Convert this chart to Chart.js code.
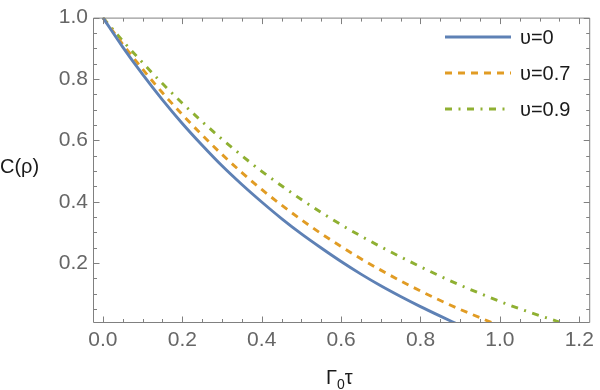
<!DOCTYPE html>
<html>
<head>
<meta charset="utf-8">
<script src="https://cdn.jsdelivr.net/npm/chart.js@4"></script>
<style>
  html, body { margin: 0; padding: 0; background: #fff; }
  #wrap { position: relative; width: 600px; height: 390px; }
  #chart { position: absolute; left: 0; top: 0; }
  .axis-title { position: absolute; font-family: 'Liberation Sans', Arial, sans-serif; font-size: 20px; color: #1a1a1a; white-space: nowrap; line-height: 23px; }
  #yTitle { left: 0px; top: 155px; }
  #xTitle { left: 326px; top: 366px; }
  #xTitle sub { font-size: 14px; vertical-align: -5px; line-height: 0; }
  .leg { position: absolute; left: 445px; height: 24px; display: flex; align-items: center; font-family: 'Liberation Sans', Arial, sans-serif; font-size: 20px; color: #1a1a1a; }
  .leg svg { margin-right: 9px; }
</style>
</head>
<body>
<div id="wrap">
  <canvas id="chart" width="600" height="390"></canvas>
  <div class="axis-title" id="yTitle">C(ρ)</div>
  <div class="axis-title" id="xTitle">Γ<sub>0</sub>τ</div>
  <div id="legend"></div>
</div>
<script>
// 曲线数据
const tauV0 = [0, 0.05, 0.1, 0.15, 0.2, 0.25, 0.3, 0.35, 0.4, 0.45, 0.5, 0.55, 0.6, 0.65, 0.7, 0.75, 0.8, 0.85, 0.895];
const cV0 = [1.000, 0.904, 0.815, 0.732, 0.655, 0.584, 0.517, 0.456, 0.399, 0.345, 0.295, 0.249, 0.205, 0.164, 0.126, 0.091, 0.058, 0.027, 0];

const tauV07 = [0, 0.05, 0.1, 0.15, 0.2, 0.25, 0.3, 0.35, 0.4, 0.45, 0.5, 0.55, 0.6, 0.65, 0.7, 0.75, 0.8, 0.85, 0.9, 0.95, 0.99];
const cV07 = [1.000, 0.913, 0.832, 0.755, 0.684, 0.617, 0.554, 0.495, 0.440, 0.389, 0.341, 0.296, 0.254, 0.214, 0.177, 0.142, 0.109, 0.078, 0.049, 0.022, 0];

const tauV09 = [0, 0.05, 0.1, 0.15, 0.2, 0.25, 0.3, 0.35, 0.4, 0.45, 0.5, 0.55, 0.6, 0.65, 0.7, 0.75, 0.8, 0.85, 0.9, 0.95, 1.0, 1.05, 1.1, 1.15, 1.165];
const cV09 = [1.000, 0.924, 0.853, 0.785, 0.721, 0.661, 0.604, 0.550, 0.499, 0.452, 0.407, 0.365, 0.325, 0.288, 0.253, 0.220, 0.188, 0.157, 0.128, 0.101, 0.075, 0.051, 0.029, 0.008, 0];

const seriesLabels = ['υ=0', 'υ=0.7', 'υ=0.9'];

// 刻度
const xMajor = [0, 0.2, 0.4, 0.6, 0.8, 1.0, 1.2];
const xMinor = [0.05, 0.1, 0.15, 0.25, 0.3, 0.35, 0.45, 0.5, 0.55, 0.65, 0.7, 0.75, 0.85, 0.9, 0.95, 1.05, 1.1, 1.15];
const yMajor = [0.2, 0.4, 0.6, 0.8, 1.0];
const yMinor = [0.05, 0.1, 0.15, 0.25, 0.3, 0.35, 0.45, 0.5, 0.55, 0.65, 0.7, 0.75, 0.85, 0.9, 0.95];

const COLORS = ['#5e81b5', '#e19c24', '#8fb032'];
const DASHES = [[], [7, 6], [7, 6.5, 2, 6.5]];
const FRAME = '#808080';

const toPts = (xs, ys) => xs.map((t, i) => ({ x: t, y: ys[i] }));

// 外框 + 向内刻度 (Mathematica 风格)
const frameTicks = {
  id: 'frameTicks',
  afterDatasetsDraw(chart) {
    const { ctx, chartArea: a, scales: { x, y } } = chart;
    ctx.save();
    ctx.strokeStyle = FRAME;
    ctx.lineWidth = 1;
    ctx.setLineDash([]);
    const L = a.left + 0.5, R = a.right + 0.5, T = a.top + 0.5, B = a.bottom + 0.5;
    ctx.beginPath();
    ctx.rect(L, T, R - L, B - T);
    const xt = (v, len) => {
      const p = Math.round(x.getPixelForValue(v)) + 0.5;
      ctx.moveTo(p, B); ctx.lineTo(p, B - len);
      ctx.moveTo(p, T); ctx.lineTo(p, T + len);
    };
    const yt = (v, len) => {
      const p = Math.round(y.getPixelForValue(v)) + 0.5;
      ctx.moveTo(L, p); ctx.lineTo(L + len, p);
      ctx.moveTo(R, p); ctx.lineTo(R - len, p);
    };
    xMajor.forEach(v => xt(v, 6));
    xMinor.forEach(v => xt(v, 3.5));
    yMajor.forEach(v => yt(v, 6));
    yMinor.forEach(v => yt(v, 3.5));
    ctx.stroke();
    ctx.restore();
  }
};

const tickFont = { family: "'Liberation Sans', Arial, sans-serif", size: 21 };

new Chart(document.getElementById('chart'), {
  type: 'line',
  data: {
    datasets: [
      { label: seriesLabels[0], data: toPts(tauV0, cV0) },
      { label: seriesLabels[1], data: toPts(tauV07, cV07) },
      { label: seriesLabels[2], data: toPts(tauV09, cV09) },
    ].map((d, i) => ({
      ...d,
      borderColor: COLORS[i],
      borderWidth: 2.9,
      borderDash: DASHES[i],
      borderCapStyle: 'butt',
      pointRadius: 0,
      fill: false,
      cubicInterpolationMode: 'monotone',
    }))
  },
  options: {
    responsive: false,
    animation: false,
    devicePixelRatio: 1,
    layout: { padding: { top: 13, right: 6, left: 0, bottom: 0 } },
    plugins: { legend: { display: false }, tooltip: { enabled: false } },
    scales: {
      x: {
        type: 'linear',
        min: -0.025,
        max: 1.225,
        grid: { display: false, drawTicks: false },
        border: { display: false },
        afterBuildTicks: ax => { ax.ticks = xMajor.map(v => ({ value: v })); },
        afterFit: ax => { ax.height = 68; },
        ticks: {
          autoSkip: false, maxRotation: 0, padding: 6,
          color: '#666666', font: tickFont,
          callback: v => Number(v).toFixed(1)
        }
      },
      y: {
        type: 'linear',
        min: 0.008,
        max: 1.0,
        grid: { display: false, drawTicks: false },
        border: { display: false },
        afterBuildTicks: ax => { ax.ticks = yMajor.map(v => ({ value: v })); },
        afterFit: ax => { ax.width = 93; },
        ticks: {
          autoSkip: false, padding: 5,
          color: '#666666', font: tickFont,
          callback: v => Number(v).toFixed(1)
        }
      }
    }
  },
  plugins: [frameTicks]
});

// 图例 (放在绘图区内右上角)
const legendTops = [25, 61, 97];
document.getElementById('legend').innerHTML = seriesLabels.map((lab, i) => `
  <div class="leg" style="top:${legendTops[i]}px">
    <svg width="66" height="6"><line x1="0" y1="3" x2="66" y2="3" stroke="${COLORS[i]}" stroke-width="2.9" stroke-dasharray="${DASHES[i].join(' ') || 'none'}"/></svg>
    <span>${lab}</span>
  </div>`).join('');
</script>
</body>
</html>
